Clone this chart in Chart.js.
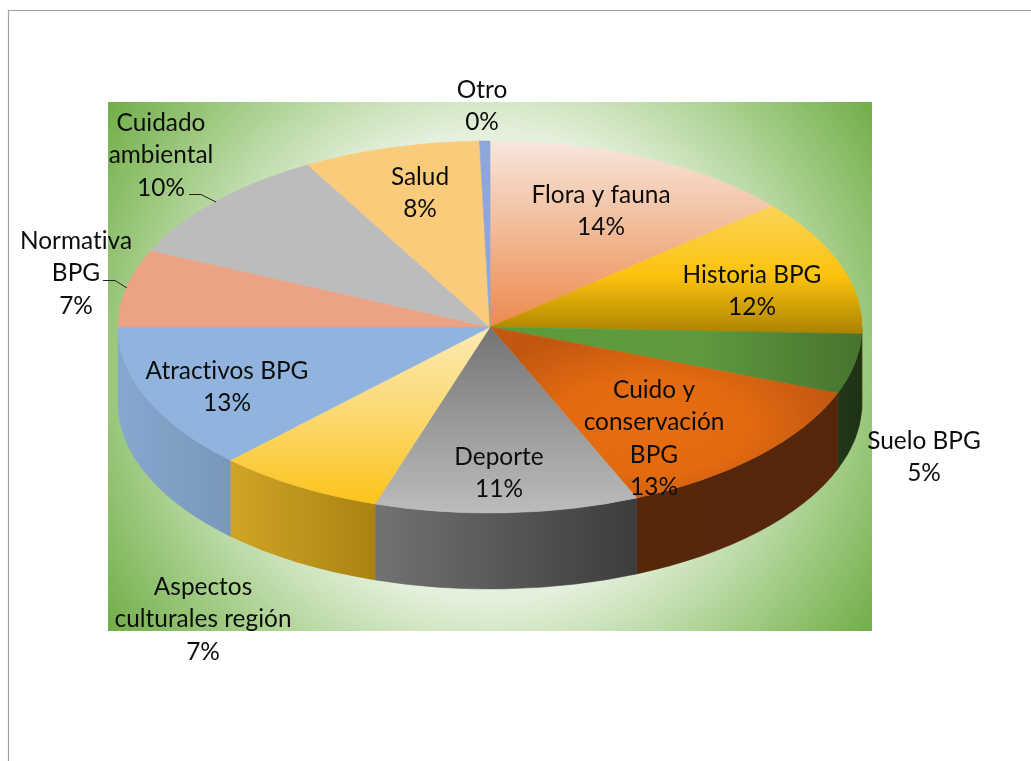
<!DOCTYPE html>
<html lang="es">
<head>
<meta charset="utf-8">
<title>Pie 3D</title>
<style>html,body{margin:0;padding:0;background:#fff}canvas{display:block}</style>
<script src="https://cdn.jsdelivr.net/npm/chart.js@4"></script>
</head>
<body>
<canvas id="c" width="1031" height="761"></canvas>
<script>
const categories = ["Flora y fauna","Historia BPG","Suelo BPG","Cuido y conservación BPG","Deporte","Aspectos culturales región","Atractivos BPG","Normativa BPG","Cuidado ambiental","Salud","Otro"];
const values = [13.7,11.9,5.2,12.75,11.45,7.3,12.7,6.75,10.1,7.7,0.45];
const labelLines = [["Flora y fauna"],["Historia BPG"],["Suelo BPG"],["Cuido y","conservación","BPG"],["Deporte"],["Aspectos","culturales región"],["Atractivos BPG"],["Normativa","BPG"],["Cuidado","ambiental"],["Salud"],["Otro"]];
const labelAnchors = [[601,195],[752,275],[924,441],[654,390],[499,457],[203,587],[227,371],[76,241],[161,123],[420,177],[482,90]];
const wallStart = [null,"#8a6a00","#22381a","#57270a","#727272","#d0a526","#86a8cf",null,null,null,null];
const wallEnd   = [null,"#8a6a00","#1d3114","#55260a","#3c3c3c","#a98212","#7997bb",null,null,null,null];
const TILT = 0.5, RX = 372, DEPTH = 76, LINE = 32.5;

function yUp(cy, sy){ return cy + (sy - cy) / TILT; }
const fills = [
  (c,cy)=>lin(c,cy,141,327,[[0,"#f7e6dc"],[.45,"#f2bd9b"],[1,"#ed8a4e"]]),
  (c,cy)=>lin(c,cy,205,333,[[0,"#fbd45a"],[.55,"#fcc20e"],[1,"#ad8400"]]),
  (c,cy)=>{const g=c.createLinearGradient(490,0,862,0);g.addColorStop(0,"#5b9a3a");g.addColorStop(.55,"#5f9b3e");g.addColorStop(1,"#47732f");return g;},
  (c,cy)=>rad(c,cy,650,425,190,[[0,"#e76d11"],[.5,"#e36a10"],[1,"#c25810"]]),
  (c,cy)=>lin(c,cy,327,513,[[0,"#737373"],[.55,"#9c9c9c"],[1,"#bcbcbc"]]),
  (c,cy)=>lin(c,cy,327,504,[[0,"#fdeab4"],[.5,"#fbd870"],[1,"#fdc31a"]]),
  ()=>"#90b4dd",
  ()=>"#eca385",
  ()=>"#bcbcbc",
  ()=>"#fbcb7c",
  ()=>"#8ea6d9"
];
function lin(c,cy,y0,y1,st){const g=c.createLinearGradient(0,yUp(cy,y0),0,yUp(cy,y1));st.forEach(s=>g.addColorStop(s[0],s[1]));return g;}
function rad(c,cy,x,y,r,st){const g=c.createRadialGradient(x,yUp(cy,y),0,x,yUp(cy,y),r);st.forEach(s=>g.addColorStop(s[0],s[1]));return g;}

const pie3d = {
  id:"pie3d",
  beforeDraw(chart){
    const c = chart.ctx;
    c.save();
    c.fillStyle="#fff"; c.fillRect(0,0,1031,761);
    c.strokeStyle="#a0a0a0"; c.lineWidth=1.2;
    c.beginPath(); c.moveTo(8.5,761); c.lineTo(8.5,10.5); c.lineTo(1031,10.5); c.stroke();
    const g=c.createRadialGradient(490,366,0,490,366,466);
    g.addColorStop(0,"#ffffff"); g.addColorStop(.5,"#e4f0dc"); g.addColorStop(.75,"#a9d08e"); g.addColorStop(1,"#70ad47");
    c.fillStyle=g; c.fillRect(108,102,764,529);
    c.restore();
  },
  beforeDatasetsDraw(chart){
    const c = chart.ctx, arcs = chart.getDatasetMeta(0).data;
    c.save();
    arcs.forEach((a,i)=>{
      if(!wallStart[i]) return;
      const s=a.startAngle, e=a.endAngle;
      const from=Math.max(s,0), to=Math.min(e,Math.PI);
      if(to<=from) return;
      const rx=a.outerRadius, ry=rx*TILT;
      const g=c.createLinearGradient(a.x+rx*Math.cos(to),0,a.x+rx*Math.cos(from),0);
      g.addColorStop(0,wallStart[i]); g.addColorStop(1,wallEnd[i]);
      c.fillStyle=g; c.strokeStyle=g; c.lineWidth=0.6;
      c.beginPath();
      c.ellipse(a.x,a.y,rx,ry,0,from,to,false);
      c.ellipse(a.x,a.y+DEPTH,rx,ry,0,to,from,true);
      c.closePath(); c.fill(); c.stroke();
    });
    c.restore();
    c.save();
    const cy=chart.getDatasetMeta(0).data[0].y;
    c.translate(0,cy); c.scale(1,TILT); c.translate(0,-cy);
  },
  afterDatasetsDraw(chart){ chart.ctx.restore(); },
  afterDraw(chart){
    const c=chart.ctx;
    c.save();
    c.strokeStyle="#222"; c.lineWidth=1;
    c.beginPath(); c.moveTo(189,194.5); c.lineTo(201,194.5); c.lineTo(216,202);
    c.moveTo(103,280.5); c.lineTo(115,280.5); c.lineTo(127,288); c.stroke();
    c.fillStyle="#0d0d0d"; c.font='24.4px Lato, "Open Sans", sans-serif';
    c.letterSpacing="0.01px";
    c.textAlign="center"; c.textBaseline="middle";
    labelLines.forEach((ls,i)=>{
      const [x,y]=labelAnchors[i];
      const lines=ls.concat([Math.round(values[i])+"%"]);
      lines.forEach((t,j)=>c.fillText(t,x,y+j*LINE));
    });
    c.restore();
  }
};

function sliceFill(ctx){
  const ch=ctx.chart;
  if(!ch.chartArea||ctx.dataIndex===undefined) return "#ccc";
  return fills[ctx.dataIndex](ch.ctx,ch.chartArea.top+ch.chartArea.height/2);
}
new Chart(document.getElementById("c"),{
  type:"pie",
  data:{labels:categories,datasets:[{data:values,clip:false,borderWidth:0.8,borderColor:sliceFill,backgroundColor:sliceFill}]},
  plugins:[pie3d],
  options:{
    responsive:false,animation:false,events:[],
    radius:RX,
    layout:{padding:{left:0,top:0,right:51,bottom:107}},
    plugins:{legend:{display:false},tooltip:{enabled:false},title:{display:false}}
  }
});
</script>
</body>
</html>
